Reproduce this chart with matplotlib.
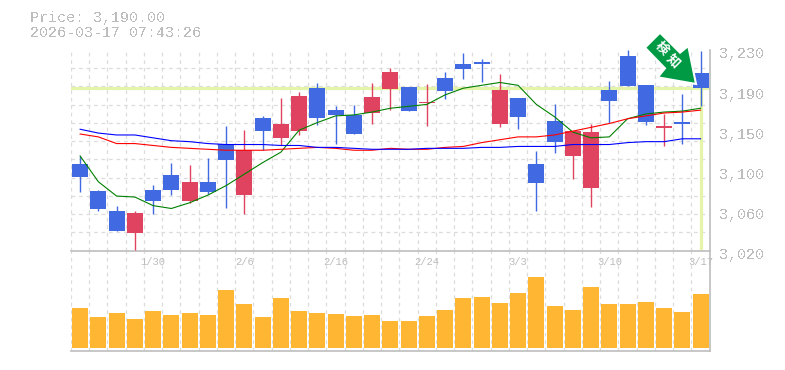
import matplotlib
matplotlib.use("Agg")
import matplotlib.pyplot as plt
from matplotlib.patches import Polygon, Rectangle
from matplotlib.transforms import ScaledTranslation

W, H = 785, 370

plt.rcParams["font.family"] = ["Liberation Mono", "Noto Sans CJK JP", "DejaVu Sans"]
plt.rcParams["text.antialiased"] = False

opens = [3111, 3082, 3061, 3038, 3083, 3099, 3072, 3092, 3132, 3078, 3159, 3138, 3145, 3190, 3167, 3162, 3164, 3189,
         3191, 3174, 3201, 3215, 3217, 3152, 3180, 3111, 3156, 3119, 3085, 3188, 3224, 3193, 3148, 3155, 3206]
closes = [3097, 3063, 3040, 3059, 3072, 3083, 3092, 3081, 3115, 3125, 3145, 3153, 3182, 3159, 3162, 3142, 3181, 3207,
          3166, 3176, 3187, 3210, 3215, 3188, 3160, 3091, 3134, 3145, 3144, 3177, 3192, 3155, 3150, 3153, 3190]
highs = [3119, 3083, 3067, 3061, 3089, 3112, 3110, 3117, 3150, 3146, 3161, 3180, 3186, 3195, 3171, 3172, 3195, 3211,
         3191, 3194, 3207, 3227, 3221, 3205, 3180, 3124, 3173, 3145, 3153, 3198, 3230, 3193, 3163, 3184, 3229]
lows = [3081, 3061, 3040, 3020, 3058, 3078, 3070, 3079, 3065, 3058, 3125, 3131, 3141, 3151, 3132, 3142, 3152, 3167,
        3166, 3150, 3179, 3200, 3197, 3149, 3147, 3061, 3122, 3095, 3066, 3154, 3192, 3151, 3129, 3132, 3171]
ma_short = [3119, 3092, 3077, 3076, 3067, 3064, 3070, 3078, 3088, 3100, 3112, 3123, 3146, 3154, 3161, 3162, 3165, 3169,
            3171, 3173, 3183, 3190, 3193, 3196, 3193, 3173, 3160, 3144, 3138, 3139, 3158, 3163, 3165, 3166, 3169]
ma_mid = [3142, 3139, 3132, 3132, 3130, 3128, 3127, 3126, 3125, 3125, 3125, 3126, 3127, 3128, 3127, 3125, 3125, 3127,
          3126, 3126, 3128, 3129, 3133, 3136, 3139, 3139, 3141, 3145, 3149, 3153, 3158, 3161, 3164, 3165, 3167]
ma_long = [3147, 3143, 3141, 3141, 3138, 3135, 3134, 3132, 3131, 3131, 3131, 3130, 3130, 3128, 3128, 3127, 3126, 3126,
           3126, 3127, 3127, 3127, 3128, 3128, 3129, 3129, 3129, 3131, 3131, 3131, 3133, 3134, 3134, 3137, 3137]
volumes = [40, 31, 35, 29, 37, 33, 35, 33, 58, 44, 31, 50, 37, 35, 34, 32, 33, 27,
           27, 32, 38, 50, 51, 45, 55, 71, 42, 38, 61, 44, 44, 46, 40, 36, 54]
date_pos = [4, 9, 14, 19, 24, 29, 34]
date_labels = ["1/30", "2/6", "2/16", "2/24", "3/3", "3/10", "3/17"]
price_ticks = [3230, 3188, 3146, 3104, 3062, 3020]
price_labels = ["3,230", "3,190", "3,150", "3,100", "3,060", "3,020"]
last_price = 3190

GREY = "#bdbdbd"
GRID = "#dcdcdc"
BLUE = "#4169e1"
RED = "#e0435f"
ORANGE = "#ffb733"
MARK = "#e4f4a9"
ARROW = "#009944"

xs = list(range(len(opens)))
grid_x = [i - 0.5 for i in xs]
grid_y = [3230 - k * 210 / 11 for k in range(11)]

fig = plt.figure(figsize=(W / 100, H / 100), dpi=100, facecolor="white")
left, right = 71 / W, 709.7 / W
vol = fig.add_axes([left, 1 - 350.5 / H, right - left, 100 / H])
ax = fig.add_axes([left, 1 - 250.5 / H, right - left, 200.5 / H])
ax.patch.set_visible(False)

vol.bar(xs, volumes, width=0.88, color=ORANGE, zorder=3)
vol.set_ylim(-2.5, 97.5)
vol.set_yticks([])
vol.tick_params(axis="x", labelbottom=False)

for a in (ax, vol):
    a.set_xlim(-0.5, 34.5)
    a.set_xticks(grid_x, minor=True)
    a.tick_params(which="both", length=0)
    a.grid(True, which="minor", axis="x", color=GRID, lw=0.9, ls=(0, (3, 3)))
    a.set_axisbelow(True)
    for s in ("left", "top"):
        a.spines[s].set_visible(False)
    for s in ("right", "bottom"):
        a.spines[s].set_color(GREY)
        a.spines[s].set_linewidth(1.2)

ax.set_ylim(3020, 3230)
ax.set_yticks(grid_y, minor=True)
ax.grid(True, which="minor", axis="y", color=GRID, lw=0.9, ls=(0, (3, 3)))
ax.yaxis.tick_right()
ax.set_yticks(price_ticks, price_labels)
ax.tick_params(axis="y", which="major", labelsize=10.8, labelcolor=GREY, pad=7)
shift = ScaledTranslation(0, -3 / 100, fig.dpi_scale_trans)
for t in ax.get_yticklabels():
    t.set_transform(t.get_transform() + shift)
ax.set_xticks(date_pos, date_labels)
ax.tick_params(axis="x", which="major", labelsize=7.6, labelcolor=GREY, pad=5)
for t in ax.get_xticklabels():
    t.set_antialiased(True)

ax.axhline(last_price, color=MARK, lw=2.3, zorder=1)
ax.plot([xs[-1], xs[-1]], [3021, last_price], color=MARK, lw=2.3, zorder=1, solid_capstyle="butt")

for i in xs:
    c = BLUE if closes[i] < opens[i] else RED
    ax.plot([i, i], [lows[i], highs[i]], color=c, lw=1.0, zorder=3, solid_capstyle="butt", clip_on=False)
    ax.add_patch(Rectangle((i - 0.44, min(opens[i], closes[i])), 0.88, abs(opens[i] - closes[i]),
                           facecolor=c, edgecolor="none", zorder=3))

ax.plot(xs, ma_short, color="#008000", lw=0.8, zorder=4)
ax.plot(xs, ma_mid, color="#ff0000", lw=0.8, zorder=4)
ax.plot(xs, ma_long, color="#0000ff", lw=0.8, zorder=4)

fig.text(30 / W, 1 - 18 / H, "Price: 3,190.00", fontsize=10.8, color=GREY, va="center")
fig.text(30 / W, 1 - 33 / H, "2026-03-17 07:43:26", fontsize=10.8, color=GREY, va="center")

# arrow badge, drawn in figure pixels
arrow_px = [(645, 47.7), (660, 32.7), (680, 52.7), (688.3, 46), (696, 84), (657.7, 77.3), (665, 68.3)]
fig.add_artist(Polygon([(x / W, 1 - y / H) for x, y in arrow_px], closed=True, transform=fig.transFigure,
                       facecolor=ARROW, edgecolor="white", lw=1.5, zorder=10))
for (px, py), ch in zip([(661, 49), (673, 61)], "検知"):
    fig.text(px / W, 1 - py / H, ch, fontsize=9.5, color="white", rotation=-45, ha="center", va="center",
             rotation_mode="anchor", fontweight="bold", antialiased=True, zorder=11)

fig.savefig("out.png", dpi=100)
